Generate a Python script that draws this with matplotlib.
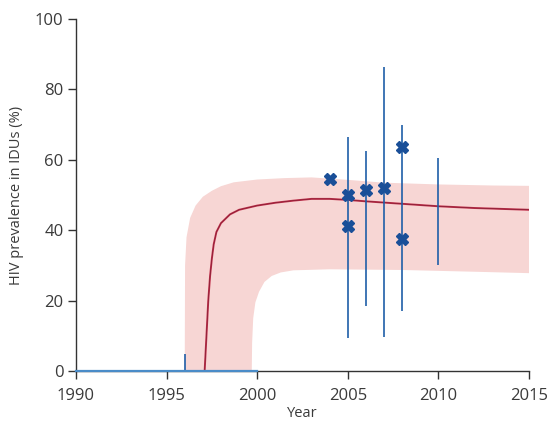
import matplotlib
matplotlib.use("Agg")
import matplotlib.pyplot as plt
import numpy as np

# Observed prevalence points (year, value)
obs_years = [2004, 2005, 2005, 2006, 2007, 2008, 2008]
obs_values = [54.5, 50, 41.2, 51.5, 52, 63.5, 37.5]

# Confidence intervals (vertical lines)
ci_years = [1996, 2005, 2006, 2007, 2008, 2010]
ci_low = [0, 9.5, 18.5, 9.8, 17, 30]
ci_high = [4.8, 66.5, 62.5, 86.5, 70, 60.5]

# Zero-prevalence observation line
zero_years = [1990, 2000]
zero_values = [0, 0]

# Model fit (median)
model_years = [1997.1, 1997.2, 1997.3, 1997.4, 1997.5, 1997.6, 1997.75, 1998.0, 1998.5,
               1999.0, 2000.0, 2001.0, 2002.0, 2003.0, 2004.0, 2005.0, 2006.0, 2008.0,
               2010.0, 2012.0, 2015.0]
model_values = [0, 10, 20, 27, 32, 36, 39.5, 42, 44.5, 45.8, 47, 47.8, 48.4, 48.9, 48.9,
                48.6, 48.2, 47.5, 46.8, 46.3, 45.8]

# Uncertainty band
upper_years = [1996.0, 1996.02, 1996.1, 1996.3, 1996.6, 1997.0, 1997.5, 1998.0, 1998.7,
               2000.0, 2001.5, 2003.0, 2005.0, 2007.0, 2010.0, 2013.0, 2015.0]
upper_values = [0, 30, 38, 43.5, 47, 49.5, 51.2, 52.5, 53.6, 54.4, 54.8, 55.0, 54.3,
                53.5, 53.0, 52.7, 52.6]
lower_years = [1996.0, 1999.7, 1999.72, 1999.78, 1999.9, 2000.1, 2000.4, 2000.8, 2001.3,
               2002.0, 2004.0, 2008.0, 2012.0, 2015.0]
lower_values = [0, 0, 8, 15, 19.5, 22.5, 25.3, 27.0, 28.0, 28.6, 28.9, 28.7, 28.2, 27.8]

x_ticks = [1990, 1995, 2000, 2005, 2010, 2015]
y_ticks = [0, 20, 40, 60, 80, 100]

plt.rcParams['font.family'] = ['Open Sans', 'DejaVu Sans']

fig = plt.figure(figsize=(5.49, 4.29), dpi=100)
ax = fig.add_axes([0.1384, 0.1352, 0.8252, 0.8205])

band_color = '#f7d6d4'
band_x = list(upper_years) + list(reversed(lower_years))
band_y = list(upper_values) + list(reversed(lower_values))
ax.fill(band_x, band_y, color=band_color, lw=0, zorder=1)

ax.plot(model_years, model_values, color='#c2334e', lw=1.4, zorder=3)
ax.plot(model_years, model_values, color='#5a0f20', lw=0.5, zorder=3, alpha=0.6)

blue = '#1f5fa8'
ax.vlines(ci_years, ci_low, ci_high, color=blue, lw=1.2, zorder=4)
ax.plot(zero_years, zero_values, color='#4a8cc8', lw=1.6, zorder=5, clip_on=False)
ax.plot(obs_years, obs_values, linestyle='none', marker='X', markersize=8.5,
        color='#1a4f98', markeredgecolor='#1a4f98', zorder=6)

ax.set_xlim(1990, 2015)
ax.set_ylim(0, 100)
ax.set_xticks(x_ticks)
ax.set_yticks(y_ticks)
for s in ['top', 'right']:
    ax.spines[s].set_visible(False)
for s in ['left', 'bottom']:
    ax.spines[s].set_color('#333333')
    ax.spines[s].set_linewidth(1.0)
ax.tick_params(axis='both', direction='out', length=6, width=1.0, color='#333333',
               labelsize=12, labelcolor='#3a3a3a', pad=3)
ax.tick_params(axis='x', pad=6)
ax.set_xlabel('Year', fontsize=10.5, color='#3a3a3a', labelpad=2)
ax.set_ylabel('HIV prevalence in IDUs (%)', fontsize=10.5, color='#3a3a3a', labelpad=8)

fig.savefig('out.png', dpi=100)
